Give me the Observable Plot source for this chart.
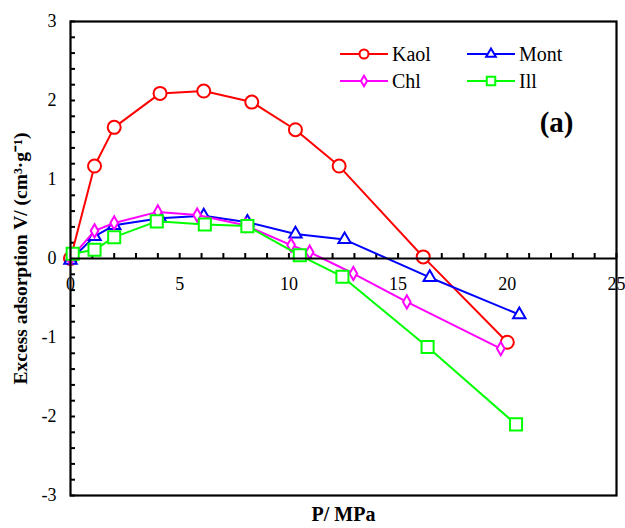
<!DOCTYPE html>
<html>
<head>
<meta charset="utf-8">
<script src="https://cdn.jsdelivr.net/npm/d3@7"></script>
<script src="https://cdn.jsdelivr.net/npm/@observablehq/plot@0.6"></script>
<style>
  html, body { margin: 0; padding: 0; background: #fff; }
  #wrap { position: relative; width: 625px; height: 528px; font-family: "Liberation Serif", "Times New Roman", serif; }
  #legend { position: absolute; left: 340px; top: 43px; display: grid; grid-template-columns: 127px 110px; row-gap: 5px; font-size: 20px; color: #000; font-family: "Liberation Serif", "Times New Roman", serif; }
  #legend .item { display: flex; align-items: center; height: 22px; }
  #legend svg { margin-right: 4px; display: block; }
</style>
</head>
<body>
<div id="wrap">
  <div id="chart"></div>
  <div id="legend"></div>
</div>
<script>
const series = ["Kaol", "Mont", "Chl", "Ill"];
const colors = ["#ff0000", "#0000ff", "#ff00ff", "#00ff00"];
const symbols = ["circle", "triangle", "diamond", "square"];
const radii = [6.5, 4.6, 4.0, 6.8];
const legendRadii = [4.5, 3.6, 3.2, 4.8];

const kaolP = [0, 1.1, 2.0, 4.1, 6.1, 8.3, 10.3, 12.3, 16.15, 20.0];
const kaolV = [0.0, 1.17, 1.66, 2.09, 2.12, 1.98, 1.63, 1.17, 0.02, -1.06];
const montP = [0, 1.1, 2.0, 4.1, 6.1, 8.1, 10.3, 12.55, 16.45, 20.55];
const montV = [-0.02, 0.28, 0.42, 0.51, 0.54, 0.46, 0.31, 0.24, -0.24, -0.71];
const chlP = [0, 1.1, 2.0, 4.0, 5.8, 8.0, 10.1, 10.95, 12.95, 15.4, 19.7];
const chlV = [0.0, 0.35, 0.45, 0.59, 0.55, 0.42, 0.17, 0.08, -0.19, -0.55, -1.14];
const illP = [0.1, 1.1, 2.0, 3.95, 6.15, 8.1, 10.5, 12.45, 16.35, 20.4];
const illV = [0.06, 0.11, 0.27, 0.47, 0.43, 0.41, 0.04, -0.23, -1.12, -2.10];

const xLabelTicks = [0, 5, 10, 15, 20, 25];
const yLabelTicks = [-3, -2, -1, 0, 1, 2, 3];
const xMinorTicks = d3.range(0, 26, 1);
const yMinorTicks = d3.range(-30, 31, 2).map(d => d / 10);

const yTitle = "Excess adsorption V/ (cm³·g⁻¹)";
const xTitle = "P/ MPa";
const panelTag = "(a)";

const FONT = "Liberation Serif, Times New Roman, serif";

const Ps = [kaolP, montP, chlP, illP];
const Vs = [kaolV, montV, chlV, illV];
const data = series.flatMap((s, k) => Ps[k].map((p, i) => ({series: s, P: p, V: Vs[k][i]})));

const lineMarks = [];
series.forEach((s, k) => {
  const rows = data.filter(d => d.series === s);
  lineMarks.push(Plot.line(rows, {x: "P", y: "V", stroke: colors[k], strokeWidth: 2}));
  lineMarks.push(Plot.dot(rows, {x: "P", y: "V", symbol: () => symbols[k], r: radii[k], stroke: colors[k], strokeWidth: 2, fill: "white"}));
});

// tick lengths (5px) expressed in scale units: x 546px/25 units, y 474px/6 units
const xTickLen = 5 / (546 / 25);
const yTickLen = 5 / (474 / 6);

const chart = Plot.plot({
  width: 625,
  height: 528,
  marginLeft: 70,
  marginRight: 9,
  marginTop: 21,
  marginBottom: 33,
  style: {fontFamily: FONT, fontSize: "18px", color: "#000", background: "white"},
  x: {domain: [0, 25]},
  y: {domain: [-3, 3]},
  symbol: {domain: symbols, range: symbols},
  marks: [
    Plot.axisY({ticks: yLabelTicks, tickSize: 0, tickPadding: 14, fontSize: 18, fontFamily: FONT, tickFormat: d => String(d), label: null}),
    Plot.axisX({ticks: [], tickSize: 0, label: null}),
    Plot.ruleY(yMinorTicks, {y: d => d, x1: 0, x2: xTickLen, strokeWidth: 2}),
    Plot.ruleX(xMinorTicks, {x: d => d, y1: 0, y2: yTickLen, strokeWidth: 2}),
    Plot.text(xLabelTicks, {x: d => d, y: 0, dy: 26, text: d => String(d), fontSize: 18, fontFamily: FONT}),
    ...lineMarks,
    Plot.ruleY([0], {strokeWidth: 2.2}),
    Plot.frame({strokeWidth: 2.2}),
    Plot.text([yTitle], {frameAnchor: "left", dx: -50, rotate: -90, textAnchor: "middle", fontWeight: "bold", fontSize: 19.5, fontFamily: FONT, text: d => d}),
    Plot.text([xTitle], {frameAnchor: "bottom", dy: 25, textAnchor: "middle", fontWeight: "bold", fontSize: 20, fontFamily: FONT, text: d => d}),
    Plot.text([panelTag], {frameAnchor: "top-right", dx: -43, dy: 90, textAnchor: "end", fontWeight: "bold", fontSize: 29, fontFamily: FONT, text: d => d})
  ]
});
document.getElementById("chart").appendChild(chart);

// legend
const legend = document.getElementById("legend");
const d3sym = {circle: d3.symbolCircle, triangle: d3.symbolTriangle, diamond: d3.symbolDiamond, square: d3.symbolSquare};
series.forEach((s, k) => {
  const item = document.createElement("div");
  item.className = "item";
  const ns = "http://www.w3.org/2000/svg";
  const svg = document.createElementNS(ns, "svg");
  svg.setAttribute("width", 48);
  svg.setAttribute("height", 20);
  const ln = document.createElementNS(ns, "line");
  ln.setAttribute("x1", 0); ln.setAttribute("x2", 48);
  ln.setAttribute("y1", 10); ln.setAttribute("y2", 10);
  ln.setAttribute("stroke", colors[k]); ln.setAttribute("stroke-width", 2);
  svg.appendChild(ln);
  const p = document.createElementNS(ns, "path");
  p.setAttribute("d", d3.symbol(d3sym[symbols[k]], Math.PI * legendRadii[k] * legendRadii[k])());
  p.setAttribute("transform", "translate(24,10)");
  p.setAttribute("fill", "white");
  p.setAttribute("stroke", colors[k]);
  p.setAttribute("stroke-width", 2);
  svg.appendChild(p);
  item.appendChild(svg);
  const t = document.createElement("span");
  t.textContent = s;
  item.appendChild(t);
  legend.appendChild(item);
});
</script>
</body>
</html>
